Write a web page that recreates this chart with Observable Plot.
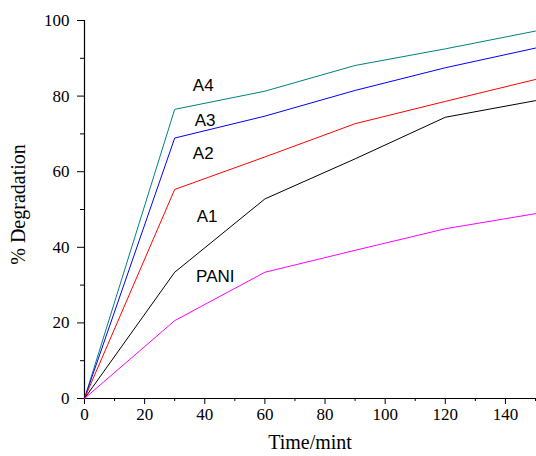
<!DOCTYPE html>
<html>
<head>
<meta charset="utf-8">
<script src="https://cdn.jsdelivr.net/npm/d3@7"></script>
<script src="https://cdn.jsdelivr.net/npm/@observablehq/plot@0.6"></script>
<style>
  html, body { margin: 0; padding: 0; background: #fff; }
  #chart svg { display: block; }
  #chart g[aria-label="x-axis tick label"], #chart g[aria-label="y-axis tick label"],
  #chart g[aria-label="x-axis tick label"] text, #chart g[aria-label="y-axis tick label"] text {
    font-family: 'Liberation Serif', 'Times New Roman', serif !important;
    font-size: 17px !important;
    fill: #000 !important;
  }
</style>
</head>
<body>
<div id="chart"></div>
<script>
const times = [0, 30, 60, 90, 120, 150];
const seriesNames = ["A4", "A3", "A2", "A1", "PANI"];
const seriesColors = ["#008080", "#0000ff", "#ff0000", "#000000", "#ff00ff"];
const A4 = [0, 76.5, 81.3, 88.1, 92.5, 97.2];
const A3 = [0, 68.9, 74.7, 81.5, 87.5, 92.7];
const A2 = [0, 55.3, 63.9, 72.7, 78.6, 84.4];
const A1 = [0, 33.4, 52.8, 63.4, 74.4, 78.8];
const PANI = [0, 20.6, 33.4, 39.2, 44.9, 48.9];
const labelX = [39.5, 40.1, 39.5, 40.8, 43.5];
const labelY = [82.8, 73.5, 64.8, 48.1, 32.3];
const xTicks = [0, 20, 40, 60, 80, 100, 120, 140];
const yTicks = [0, 20, 40, 60, 80, 100];

const values = [A4, A3, A2, A1, PANI];
const rows = [];
seriesNames.forEach((name, i) => {
  times.forEach((t, j) => rows.push({series: name, time: t, value: values[i][j]}));
});
const labels = seriesNames.map((name, i) => ({series: name, x: labelX[i], y: labelY[i]}));

const serif = "'Liberation Serif', 'Times New Roman', serif";

const chart = Plot.plot({
  width: 536,
  height: 456,
  marginLeft: 84,
  marginRight: 1,
  marginTop: 20,
  marginBottom: 58,
  style: {fontFamily: serif, fontSize: "17px", color: "#000", background: "#fff"},
  x: {domain: [0, 150], label: null},
  y: {domain: [0, 100], label: null},
  color: {domain: seriesNames, range: seriesColors},
  marks: [
    Plot.axisX({ticks: d3.range(0, 151, 10).filter(d => d % 20 !== 0), tickSize: 3, text: null}),
    Plot.axisX({ticks: xTicks, tickSize: 6, tickPadding: 3}),
    Plot.axisY({ticks: d3.range(10, 100, 20), tickSize: 4, text: null}),
    Plot.axisY({ticks: yTicks, tickSize: 7, tickPadding: 8}),
    Plot.ruleY([0], {stroke: "#000", strokeWidth: 1.2}),
    Plot.ruleX([0], {stroke: "#000", strokeWidth: 1.2}),
    Plot.line(rows, {x: "time", y: "value", z: "series", stroke: "series", strokeWidth: 1}),
    Plot.text(labels, {x: "x", y: "y", text: "series", fontFamily: "'Liberation Sans', Arial, sans-serif", fontSize: 17, fill: "#000"}),
    Plot.text(["Time/mint"], {frameAnchor: "bottom", textAnchor: "middle", dy: 50, fontSize: 20, fontFamily: serif, fill: "#000"}),
    Plot.text(["% Degradation"], {frameAnchor: "left", textAnchor: "middle", dx: -66, dy: -5, rotate: -90, fontSize: 20, fontFamily: serif, fill: "#000"})
  ]
});
document.getElementById("chart").appendChild(chart);
</script>
</body>
</html>
